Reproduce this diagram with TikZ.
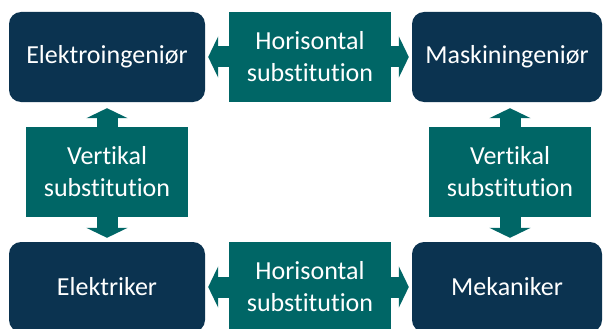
\documentclass[tikz,border=0pt]{standalone}
\usepackage{fontspec}
\setmainfont{Carlito}[Ligatures=NoCommon]
\usetikzlibrary{arrows.meta}

\definecolor{navy}{RGB}{11,51,80}
\definecolor{teal}{RGB}{0,102,102}

\tikzset{
  role/.style={fill=navy, rounded corners=12pt, minimum height=90pt,
    text=white, font=\fontsize{26}{32}\selectfont},
  subst/.style={fill=teal, minimum width=162pt, minimum height=90pt,
    text=white, align=center, font=\fontsize{26}{32}\selectfont},
  fat/.style={draw=teal, line width=21pt,
    -{Triangle[width=41pt,length=10pt]}}
}

\begin{document}
\begin{tikzpicture}[x=1pt, y=-1pt]
      \useasboundingbox (0,0) rectangle (605,329);

      % Draw the four roles
      \node[role, minimum width=196pt] (elektroing) at (107, 57) {Elektroingeniør};
      \node[role, minimum width=190pt] (maskining) at (507, 57) {Maskiningeniør};
      \node[role, minimum width=196pt] (elektriker) at (107, 287) {Elektriker};
      \node[role, minimum width=190pt] (mekaniker) at (507, 287) {Mekaniker};

      % Draw the arrows out of the substitution boxes
      \coordinate (hortop) at (310, 57);
      \coordinate (horbot) at (310, 287);
      \coordinate (vertleft) at (107, 172);
      \coordinate (vertright) at (510, 172);

      \draw[fat, shorten >=3pt] ([xshift=-70pt]hortop) -- (elektroing.east);
      \draw[fat, shorten >=3pt] ([xshift=70pt]hortop) -- (maskining.west);
      \draw[fat, shorten >=3pt] ([xshift=-70pt]horbot) -- (elektriker.east);
      \draw[fat, shorten >=3pt] ([xshift=70pt]horbot) -- (mekaniker.west);

      \draw[fat, shorten >=6pt] ([yshift=-35pt]vertleft) -- (vertleft |- elektroing.south);
      \draw[fat, shorten >=4pt] ([yshift=35pt]vertleft) -- (vertleft |- elektriker.north);
      \draw[fat, shorten >=6pt] ([yshift=-35pt]vertright) -- (vertright |- maskining.south);
      \draw[fat, shorten >=4pt] ([yshift=35pt]vertright) -- (vertright |- mekaniker.north);

      % Draw the substitution boxes on top
      \node[subst] (hor1) at (hortop) {Horisontal\\substitution};
      \node[subst] (hor2) at (horbot) {Horisontal\\substitution};
      \node[subst] (vert1) at (vertleft) {Vertikal\\substitution};
      \node[subst] (vert2) at (vertright) {Vertikal\\substitution};
\end{tikzpicture}
\end{document}
